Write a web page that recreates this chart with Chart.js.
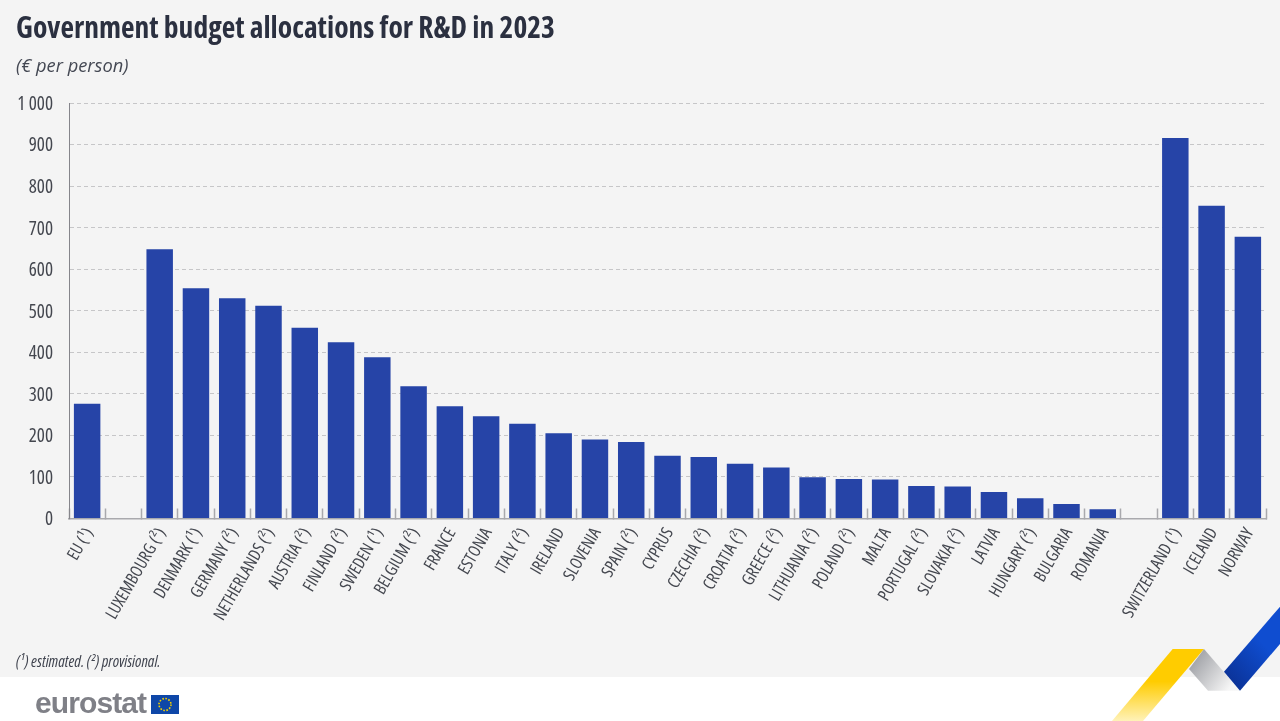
<!DOCTYPE html>
<html>
<head>
<meta charset="utf-8">
<script src="https://cdn.jsdelivr.net/npm/chart.js@4"></script>
<style>
  html, body { margin: 0; padding: 0; background: #fff; overflow: hidden; }
  #page { position: relative; width: 1280px; height: 721px; overflow: hidden; }
  #panel { position: absolute; left: 0; top: 0; width: 1280px; height: 677px; background: #f4f4f4; }
  canvas { position: absolute; left: 0; top: 0; }
  .txt { position: absolute; white-space: nowrap; font-family: "Open Sans", sans-serif; font-stretch: condensed; }
  #title { left: 16px; top: 6px; font-size: 29.5px; font-weight: bold; color: #2b3040; }
  #sub { left: 16px; top: 52px; font-size: 18.3px; font-style: italic; font-stretch: normal; color: #444853; }
  #note { left: 16px; top: 650px; font-size: 15.8px; font-style: italic; color: #3f434e; }
  #logo { left: 35px; top: 686px; font-family: "Liberation Sans", sans-serif; font-stretch: normal; font-size: 30px; font-weight: bold; color: #7f8087; letter-spacing: -0.9px; }
  svg { position: absolute; left: 0; top: 0; }
</style>
</head>
<body>
<div id="page">
  <div id="panel"></div>
  <canvas id="chart" width="1280" height="677"></canvas>
  <div class="txt" id="title">Government budget allocations for R&amp;D in 2023</div>
  <div class="txt" id="sub">(€ per person)</div>
  <div class="txt" id="note">(¹) estimated. (²) provisional.</div>
  <div class="txt" id="logo">eurostat</div>
  <svg width="1280" height="721" xmlns="http://www.w3.org/2000/svg">
    <defs>
      <linearGradient id="gy" x1="0" y1="0" x2="0" y2="1">
        <stop offset="0.45" stop-color="#ffcc00"/><stop offset="1" stop-color="#fff2b8"/>
      </linearGradient>
      <linearGradient id="gg" x1="0" y1="0" x2="1" y2="0.6">
        <stop offset="0" stop-color="#8f9197"/><stop offset="1" stop-color="#f6f6f6"/>
      </linearGradient>
      <linearGradient id="gb" x1="0" y1="1" x2="0.5" y2="0.3">
        <stop offset="0" stop-color="#0a2d8c"/><stop offset="1" stop-color="#0f4dd0"/>
      </linearGradient>
    </defs>
    <polygon points="1172.7,649 1204,649 1143,721 1112,721" fill="url(#gy)"/>
    <polygon points="1204,649 1240,690.7 1208,690.7 1189,669" fill="url(#gg)"/>
    <polygon points="1224,671.7 1280,606.7 1280,644 1240,690.7" fill="url(#gb)"/>
    <rect x="151" y="695" width="28" height="19" fill="#0e47a8"/>
    <circle cx="165" cy="704.5" r="6" fill="none" stroke="#f5d000" stroke-width="1.6" stroke-dasharray="1.6 1.5"/>
  </svg>
</div>
<script>
const categories = ["EU (¹)", "", "LUXEMBOURG (²)", "DENMARK (¹)", "GERMANY (²)", "NETHERLANDS (²)", "AUSTRIA (²)", "FINLAND (²)", "SWEDEN (¹)", "BELGIUM (²)", "FRANCE", "ESTONIA", "ITALY (²)", "IRELAND", "SLOVENIA", "SPAIN (²)", "CYPRUS", "CZECHIA (²)", "CROATIA (²)", "GREECE (²)", "LITHUANIA (²)", "POLAND (²)", "MALTA", "PORTUGAL (²)", "SLOVAKIA (²)", "LATVIA", "HUNGARY (²)", "BULGARIA", "ROMANIA", "", "SWITZERLAND (¹)", "ICELAND", "NORWAY"];
const values = [276, null, 648, 554, 530, 512, 459, 424, 388, 318, 270, 246, 228, 205, 190, 184, 151, 148, 132, 123, 99, 95, 94, 78, 77, 64, 49, 35, 22, null, 916, 753, 678];

const textColor = "#44474f";
// chart.js pastes weight straight into the canvas font string, so this picks the condensed face
const tickFont = { family: '"Open Sans", sans-serif', weight: "condensed" };

new Chart(document.getElementById("chart"), {
  type: "bar",
  data: {
    labels: categories,
    datasets: [{
      data: values,
      backgroundColor: "#2644a7",
      barPercentage: 0.73,
      categoryPercentage: 1
    }]
  },
  options: {
    responsive: false,
    animation: false,
    layout: { autoPadding: false, padding: { top: 103, right: 14, left: 0, bottom: 0 } },
    plugins: { legend: { display: false }, tooltip: { enabled: false } },
    scales: {
      x: {
        offset: true,
        border: { color: "#a9a9ad", width: 1.5 },
        grid: { drawOnChartArea: false, drawTicks: true, tickLength: -10, tickColor: "#a9a9ad", tickWidth: 1.5, offset: true },
        ticks: { autoSkip: false, minRotation: 60, maxRotation: 60, padding: 16, labelOffset: 2, color: textColor, font: { ...tickFont, size: 17 } },
        afterFit: (s) => { s.height = 158.5; s.paddingRight = 0; }
      },
      y: {
        min: 0,
        max: 1000,
        border: { color: "#85858b", width: 1, dash: [4, 3] },
        grid: {
          drawTicks: false,
          color: (c) => (c.tick.value === 0 ? "transparent" : "#c6c6c8"),
          lineWidth: 1
        },
        ticks: {
          stepSize: 100,
          padding: 16,
          labelOffset: 1.5,
          color: textColor,
          font: { ...tickFont, size: 19 },
          callback: (v) => String(v).replace(/\B(?=(\d{3})+$)/g, " ")
        },
        afterFit: (s) => { s.width = 69; }
      }
    }
  }
});
</script>
</body>
</html>
